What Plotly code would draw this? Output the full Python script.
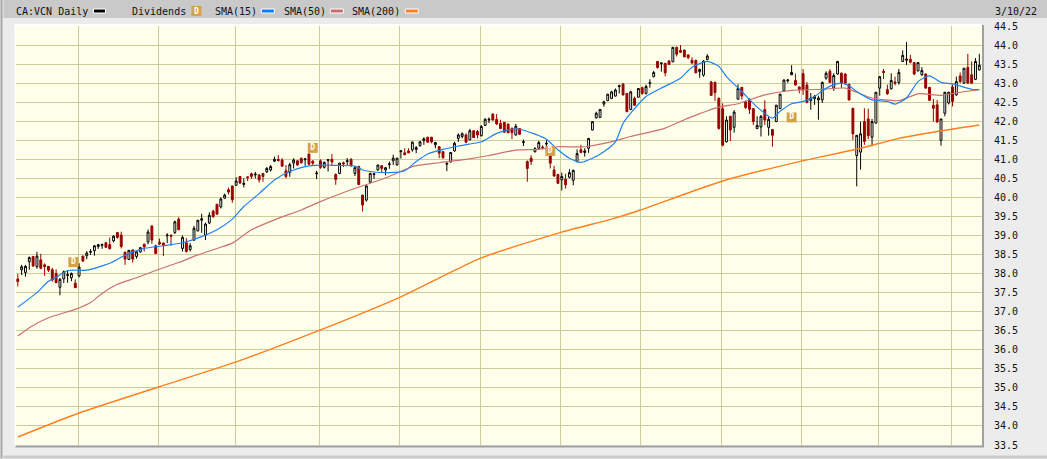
import plotly.graph_objects as go

opens = [37.86,38.10,38.03,38.31,38.45,38.18,38.36,38.23,38.19,38.10,38.00,37.64,37.86,37.95,37.89,37.75,37.94,38.46,38.47,38.56,
38.60,38.71,38.74,38.81,38.76,38.86,39.08,39.01,38.56,38.37,38.62,38.45,38.57,38.77,38.83,39.25,38.73,38.82,38.80,38.99,
39.01,39.08,39.43,38.66,38.81,38.63,38.88,39.12,39.40,39.01,39.33,39.64,39.82,39.75,39.98,40.20,40.30,40.32,40.55,40.34,
40.54,40.62,40.59,40.59,40.63,40.67,40.72,40.95,41.00,40.98,40.70,40.66,40.90,40.96,41.03,40.99,41.14,40.95,40.62,40.96,
40.79,40.97,41.00,40.60,40.63,40.91,40.94,41.00,40.63,40.81,40.06,39.93,40.40,40.60,40.72,40.83,40.72,40.86,40.96,40.85,
41.20,41.17,41.22,41.25,41.26,41.36,41.49,41.58,41.58,41.38,41.33,41.20,40.87,40.93,41.22,41.55,41.60,41.64,41.51,41.75,
41.73,41.62,41.89,42.03,42.19,42.05,41.94,41.97,41.92,41.81,41.64,41.81,41.44,40.94,41.03,41.20,41.29,41.32,41.40,41.10,
40.72,40.60,40.46,40.48,40.53,40.45,40.94,41.25,41.18,41.29,41.77,42.09,42.10,42.45,42.54,42.60,42.66,42.91,42.98,42.73,
42.31,42.60,42.63,42.88,42.73,42.99,43.17,43.57,43.51,43.52,43.58,43.56,43.94,43.86,43.87,43.74,43.60,43.60,43.30,43.21,
43.62,43.03,43.02,42.60,42.33,41.46,42.13,41.84,42.58,42.89,42.51,42.58,42.33,41.81,41.85,42.31,41.84,41.78,41.99,42.33,
42.80,43.06,43.22,43.07,42.90,43.25,42.95,42.54,42.59,42.56,42.56,43.13,43.31,42.87,43.24,43.26,43.24,42.97,42.34,41.10,
41.19,41.99,42.06,41.58,41.95,42.87,43.31,42.83,42.85,43.03,43.02,43.57,43.60,43.63,43.54,43.32,43.22,43.24,42.89,42.42,
42.43,41.50,42.21,42.48,42.90,42.69,43.19,43.00,43.41,43.22,43.10,43.35]
highs = [37.99,38.23,38.23,38.45,38.46,38.57,38.52,38.27,38.20,38.15,38.11,37.88,38.08,38.08,38.03,37.85,38.27,38.47,38.59,38.64,
38.75,38.78,38.79,38.83,38.95,39.01,39.09,39.10,38.58,38.62,38.63,38.59,38.70,38.79,39.16,39.26,38.76,38.92,38.82,39.06,
39.02,39.39,39.48,39.00,38.93,38.80,39.25,39.41,39.57,39.34,39.61,39.67,39.83,40.00,40.10,40.26,40.31,40.53,40.56,40.50,
40.55,40.65,40.67,40.61,40.64,40.80,40.85,41.07,41.11,41.03,40.85,40.91,41.03,40.98,41.04,41.03,41.15,40.98,40.70,41.00,
40.94,41.00,41.14,40.63,40.91,40.94,41.03,41.03,40.82,40.83,40.07,40.32,40.65,40.65,40.86,40.85,40.80,40.94,41.12,41.04,
41.24,41.29,41.29,41.47,41.35,41.48,41.58,41.59,41.59,41.46,41.35,41.22,40.94,41.19,41.46,41.68,41.71,41.68,41.80,41.76,
41.77,41.90,42.08,42.10,42.20,42.19,42.04,41.98,41.95,41.84,41.93,41.82,41.52,40.97,41.11,41.32,41.49,41.37,41.50,41.30,
40.83,40.62,40.65,40.62,40.74,40.73,41.26,41.38,41.29,41.55,41.99,42.25,42.32,42.54,42.72,42.80,42.86,42.96,42.99,42.74,
42.80,42.65,42.87,42.91,42.96,43.10,43.32,43.58,43.53,43.53,43.61,43.95,43.96,44.00,43.88,43.76,43.68,43.61,43.38,43.60,
43.76,43.06,43.04,42.63,42.47,42.13,42.14,42.29,42.97,42.90,42.54,42.60,42.34,42.13,42.16,42.55,42.13,41.79,42.43,42.72,
43.10,43.11,43.47,43.25,42.91,43.37,43.03,42.74,42.69,42.67,43.04,43.31,43.37,43.26,43.58,43.28,43.26,42.98,42.35,41.64,
41.99,42.34,42.33,42.06,42.77,43.18,43.37,42.96,43.26,43.17,43.37,43.86,44.08,43.74,43.55,43.55,43.42,43.25,42.90,42.58,
42.56,42.06,42.77,42.77,42.96,43.17,43.28,43.40,43.77,43.57,43.66,43.77]
lows = [37.66,37.96,37.92,38.10,38.18,38.13,38.11,37.94,38.04,37.79,37.76,37.43,37.75,37.76,37.80,37.63,37.90,38.31,38.38,38.49,
38.47,38.65,38.65,38.68,38.64,38.82,38.92,38.66,38.23,38.36,38.29,38.39,38.55,38.58,38.77,38.78,38.51,38.75,38.46,38.80,
38.73,39.04,39.15,38.58,38.55,38.58,38.86,39.11,39.07,38.88,39.30,39.46,39.55,39.71,39.96,40.08,39.86,40.30,40.35,40.26,
40.43,40.49,40.50,40.39,40.41,40.64,40.68,40.93,40.94,40.80,40.50,40.54,40.76,40.83,40.89,40.83,40.85,40.85,40.48,40.75,
40.76,40.68,40.85,40.33,40.61,40.80,40.85,40.81,40.56,40.32,39.63,39.89,40.38,40.49,40.70,40.66,40.58,40.75,40.85,40.84,
41.02,41.12,41.16,41.20,41.16,41.33,41.38,41.44,41.42,41.29,41.03,41.02,40.69,40.92,41.20,41.46,41.55,41.42,41.50,41.56,
41.55,41.60,41.88,41.95,42.02,41.90,41.79,41.70,41.68,41.53,41.62,41.64,41.35,40.41,40.85,41.18,41.27,41.26,41.33,40.76,
40.55,40.35,40.18,40.23,40.50,40.32,40.92,41.16,41.07,41.17,41.76,42.07,42.09,42.38,42.53,42.58,42.65,42.73,42.68,42.24,
42.29,42.40,42.62,42.69,42.70,42.88,43.15,43.38,43.30,43.18,43.48,43.55,43.70,43.79,43.68,43.63,43.49,43.26,43.14,43.17,
43.60,42.67,42.53,41.78,41.34,41.44,41.48,41.70,42.57,42.57,42.32,42.19,41.90,41.79,41.60,41.90,41.62,41.33,41.98,42.32,
42.78,43.01,43.21,42.94,42.73,42.69,42.47,42.30,42.43,42.04,42.48,43.09,43.00,42.80,43.22,42.87,42.96,42.54,41.51,40.29,
40.73,41.38,41.53,41.34,41.94,42.67,43.11,42.69,42.83,42.94,42.96,43.55,43.48,43.52,43.21,43.31,43.19,42.85,42.53,41.99,
41.96,41.36,42.13,42.44,42.39,42.67,43.00,42.98,42.99,42.98,43.08,43.33]
closes = [37.79,38.18,38.19,38.42,38.20,38.46,38.14,38.18,38.09,37.83,37.76,37.85,38.05,37.97,38.00,37.63,38.17,38.33,38.54,38.58,
38.73,38.76,38.76,38.69,38.65,38.98,38.95,38.71,38.38,38.61,38.38,38.57,38.68,38.70,39.09,38.88,38.53,38.78,38.75,39.01,
38.98,39.36,39.15,38.95,38.58,38.73,39.19,39.40,39.44,39.30,39.53,39.50,39.56,39.96,40.06,40.14,39.94,40.43,40.38,40.37,
40.52,40.55,40.61,40.46,40.55,40.76,40.81,41.00,40.97,40.82,40.55,40.86,40.98,40.85,40.91,41.01,40.87,40.90,40.64,40.79,
40.92,40.99,40.93,40.47,40.90,40.88,40.96,40.83,40.78,40.34,39.80,40.30,40.63,40.62,40.85,40.76,40.78,40.88,41.03,41.03,
41.22,41.12,41.17,41.45,41.31,41.46,41.54,41.45,41.46,41.44,41.16,41.04,40.89,41.18,41.42,41.64,41.67,41.45,41.75,41.57,
41.64,41.86,42.05,42.05,42.03,41.93,41.81,41.71,41.70,41.70,41.87,41.66,41.46,40.76,40.94,41.28,41.44,41.30,41.42,40.90,
40.56,40.37,40.55,40.33,40.65,40.71,41.15,41.18,41.22,41.55,41.99,42.21,42.31,42.51,42.71,42.77,42.82,42.93,42.69,42.25,
42.77,42.42,42.86,42.73,42.91,43.01,43.28,43.41,43.53,43.27,43.49,43.94,43.76,43.81,43.69,43.67,43.53,43.27,43.36,43.58,
43.71,42.68,42.75,41.81,41.37,42.03,41.77,42.24,42.86,42.66,42.36,42.31,41.99,41.89,42.13,42.03,42.05,41.63,42.42,42.71,
43.08,43.08,43.28,42.95,42.83,42.82,42.49,42.61,42.65,42.61,43.02,43.26,43.02,43.20,43.57,43.00,43.00,42.56,41.67,41.63,
41.67,41.47,41.62,41.99,42.76,43.17,43.28,42.72,43.07,43.00,43.28,43.73,43.63,43.55,43.24,43.54,43.33,42.87,42.55,42.34,
41.98,42.06,42.76,42.76,42.52,43.04,43.04,43.39,43.00,43.00,43.57,43.47]

sma15_idx = [0,5,8,10,13,18,24,28,33,38,43,48,52,56,59,63,67,71,75,79,83,88,90,92,97,101,104,107,111,115,121,125,129,131,135,138,141,144,147,150,153,156,158,160,164,168,173,176,180,183,185,189,193,197,199,202,205,208,210,213,215,217,219,223,227,229,232,235,238,241,244,249,251]
sma15_val = [37.12,37.5,37.8,37.9,38.08,38.09,38.27,38.48,38.66,38.73,38.81,38.97,39.15,39.43,39.76,40.1,40.46,40.68,40.81,40.85,40.84,40.82,40.72,40.68,40.65,40.7,40.94,41.14,41.26,41.35,41.46,41.68,41.79,41.79,41.66,41.53,41.25,41.03,40.92,41.03,41.2,41.46,41.94,42.21,42.65,42.87,43.13,43.42,43.57,43.44,43.17,42.78,42.37,42.08,42.26,42.46,42.52,42.65,42.8,42.96,43.0,42.93,42.78,42.56,42.52,42.45,42.61,43.04,43.19,43.02,42.98,42.84,42.83]
sma50_idx = [0,3,8,15,19,22,26,31,36,42,47,52,56,61,68,74,79,87,97,103,110,117,123,130,136,141,148,154,160,169,175,183,188,195,202,210,216,219,223,230,235,241,246,251]
sma50_val = [36.36,36.58,36.84,37.06,37.24,37.48,37.72,37.89,38.08,38.29,38.49,38.66,38.8,39.15,39.45,39.67,39.89,40.2,40.55,40.81,40.91,41.0,41.1,41.24,41.26,41.33,41.33,41.44,41.6,41.82,42.08,42.37,42.46,42.69,42.81,42.84,42.87,42.76,42.61,42.54,42.72,42.68,42.76,42.83]
sma200_idx = [0,16,37,57,79,100,121,142,155,162,184,204,220,230,240,251]
sma200_val = [33.71,34.34,35.03,35.68,36.52,37.39,38.41,39.09,39.43,39.65,40.43,40.94,41.29,41.55,41.73,41.9]

div_idx = [14.5, 77, 139, 202]
div_val = [38.3, 41.3, 41.22, 42.1]

month_grid = [15.8,36.7,56.8,78.7,99.6,120.7,141.6,162.5,183.6,204.5,224.6,243.8]
price_ticks = [33.5+0.5*i for i in range(23)]
price_labels = [f"{p:.1f}" for p in price_ticks]

MONO = "DejaVu Sans Mono"
W, H = 1047, 459
L, R, T, B = 15.5, 982.0, 26.0, 445.5
px = lambda x: (x-L)/(R-L)
py = lambda y: (B-y)/(B-T)

fig = go.Figure()
fig.add_trace(go.Candlestick(x=list(range(len(opens))), open=opens, high=highs, low=lows, close=closes,
    whiskerwidth=0,
    increasing=dict(line=dict(color="#000000", width=1), fillcolor="#ffffff"),
    decreasing=dict(line=dict(color="#990000", width=1), fillcolor="#990000"),
    hoverinfo="skip", showlegend=False))
fig.add_trace(go.Scatter(x=sma200_idx, y=sma200_val, mode="lines", line=dict(color="#ff7f20", width=1.4, shape="spline", smoothing=0.6), showlegend=False, hoverinfo="skip"))
fig.add_trace(go.Scatter(x=sma50_idx, y=sma50_val, mode="lines", line=dict(color="#cc7070", width=1.2, shape="spline", smoothing=0.6), showlegend=False, hoverinfo="skip"))
fig.add_trace(go.Scatter(x=sma15_idx, y=sma15_val, mode="lines", line=dict(color="#2080f0", width=1.2, shape="spline", smoothing=0.6), showlegend=False, hoverinfo="skip"))
fig.add_trace(go.Scatter(x=div_idx, y=div_val, mode="markers+text", text=["<b>D</b>"]*4, textposition="middle center",
    textfont=dict(family=MONO, size=8, color="#ffffff"),
    marker=dict(symbol="square", size=10, color="#d4a24c"), showlegend=False, hoverinfo="skip"))

shapes = [
    dict(type="rect", xref="paper", yref="paper", x0=px(3), x1=px(W), y0=py(0), y1=py(18), fillcolor="#c9c9c9", line_width=0, layer="below"),
    dict(type="rect", xref="paper", yref="paper", x0=px(0), x1=px(2), y0=py(0), y1=py(H), fillcolor="#a8a8a8", line_width=0, layer="below"),
    dict(type="rect", xref="paper", yref="paper", x0=px(3), x1=px(W), y0=py(456), y1=py(H), fillcolor="#c9c9c9", line_width=0, layer="below"),
    dict(type="rect", xref="paper", yref="paper", x0=px(982), x1=px(984), y0=py(25), y1=py(447), fillcolor="#a0a0a0", line_width=0, layer="below"),
    dict(type="rect", xref="paper", yref="paper", x0=px(15), x1=px(984), y0=py(446), y1=py(448), fillcolor="#a0a0a0", line_width=0, layer="below"),
    dict(type="rect", xref="paper", yref="paper", x0=px(14), x1=px(982), y0=py(24), y1=py(26), fillcolor="#ffffff", line_width=0, layer="below"),
    dict(type="rect", xref="paper", yref="paper", x0=px(14), x1=px(15.5), y0=py(24), y1=py(446), fillcolor="#ffffff", line_width=0, layer="below"),
]
swatches = [(93,105,"#000000"),(261,274,"#0a7cff"),(330,343,"#cc6b6b"),(405,418,"#ff7f20")]
for a,b,c in swatches:
    shapes.append(dict(type="rect", xref="paper", yref="paper", x0=px(a), x1=px(b), y0=py(9), y1=py(13), fillcolor=c, line=dict(color="#ffffff", width=1), layer="above"))
shapes.append(dict(type="rect", xref="paper", yref="paper", x0=px(191), x1=px(201), y0=py(6), y1=py(16), fillcolor="#d4a24c", line_width=0, layer="above"))

def label(text, x, y=11.5, color="#111111", size=10, anchor="left"):
    return dict(text=text, xref="paper", yref="paper", x=px(x), y=py(y), xanchor=anchor, yanchor="middle", showarrow=False,
                font=dict(family=MONO, size=size, color=color))
annotations = [
    label("CA:VCN Daily", 13), label("Dividends", 130), label("<b>D</b>", 196, size=8, color="#ffffff", anchor="center"),
    label("SMA(15)", 213), label("SMA(50)", 282), label("SMA(200)", 350), label("3/10/22", 993),
]

fig.update_layout(
    width=W, height=H, autosize=False,
    margin=dict(l=L, r=W-R, t=T, b=H-B, autoexpand=False),
    paper_bgcolor="#ececec", plot_bgcolor="#feffea",
    boxgap=0.3, font=dict(family=MONO, size=10, color="#111111"),
    shapes=shapes, annotations=annotations, showlegend=False, hovermode=False,
    xaxis=dict(range=[-0.47, 251.7], rangeslider=dict(visible=False), tickmode="array", tickvals=month_grid,
               showticklabels=False, ticks="", showgrid=True, gridcolor="#cccc99", gridwidth=1, zeroline=False, showline=False, fixedrange=True),
    yaxis=dict(range=[33.5, 44.5], side="right", tickmode="array", tickvals=price_ticks, ticktext=price_labels,
               ticks="outside", ticklen=9, tickcolor="rgba(0,0,0,0)", tickfont=dict(family=MONO, size=10, color="#111111"),
               showgrid=True, gridcolor="#cccc99", gridwidth=1, zeroline=False, showline=False, fixedrange=True),
)
assert len(opens)==len(highs)==len(lows)==len(closes)==252, (len(opens),len(highs),len(lows),len(closes))
fig.write_html("out.html", config=dict(displayModeBar=False),
               post_script="document.body.style.margin='0';document.body.style.overflow='hidden';")
